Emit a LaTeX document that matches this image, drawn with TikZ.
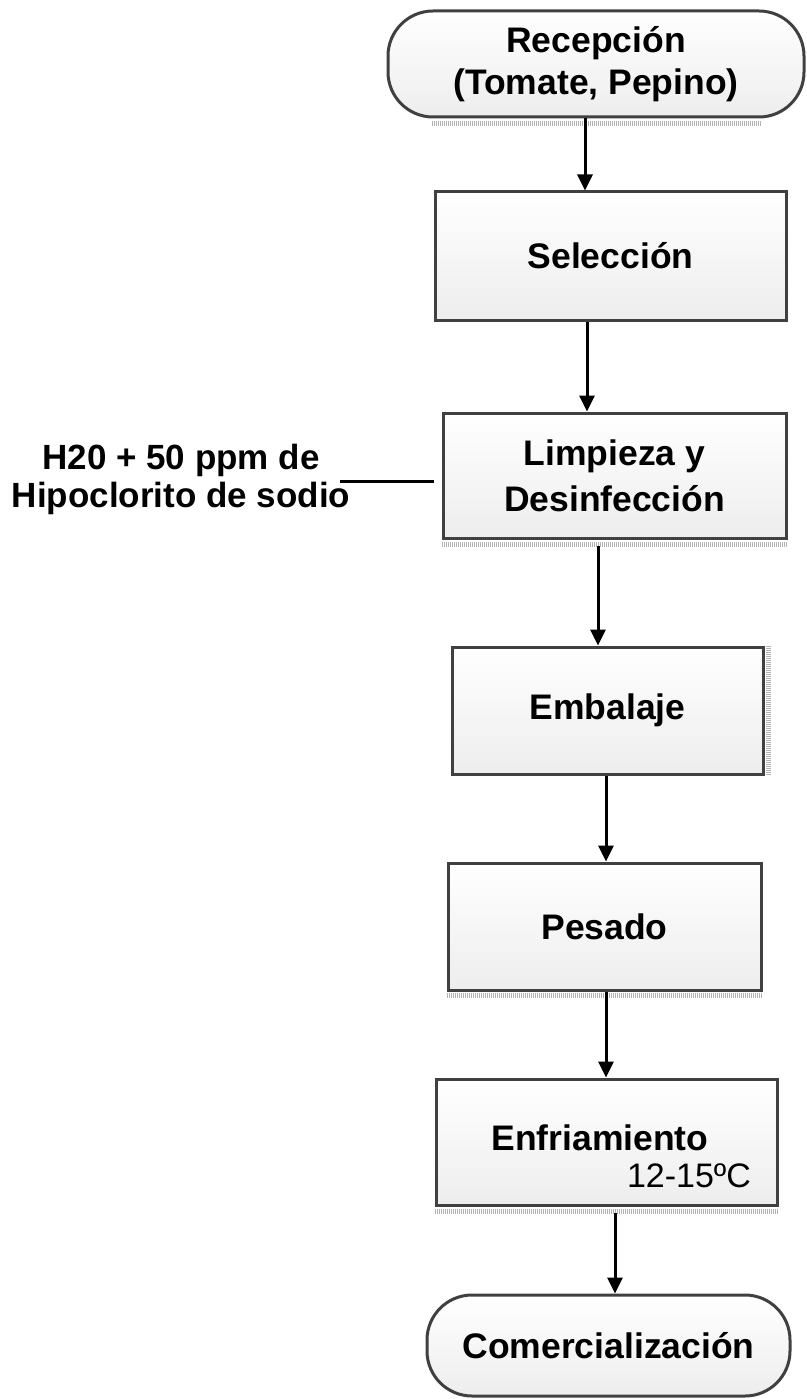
\documentclass[tikz,border=0pt]{standalone}
\usepackage{fontspec}
\setmainfont{Liberation Sans}
\usetikzlibrary{arrows.meta}

\begin{document}
\begin{tikzpicture}[
	x=1pt, y=-1pt,
	paso/.style={
		draw=black!75, line width=3pt, rectangle,
		top color=white, bottom color=black!7,
		font=\fontsize{35.5}{42}\selectfont\bfseries, align=center, inner sep=0pt
	},
	terminal/.style={paso, rounded corners=45pt},
	flecha/.style={-{Triangle[width=15pt,length=16pt]}, line width=3pt},
	sombra/.style={draw=black!30, line width=5pt, dash pattern=on 1pt off 1pt},
	nota/.style={font=\fontsize{35}{38}\selectfont\bfseries, align=center, inner sep=0pt},
	]
	\useasboundingbox (0,0) rectangle (806,1399);
	
	\node[terminal, minimum width=416pt, minimum height=106pt] (rec) at (596,64)  {Recepción\\(Tomate, Pepino)};
	\node[paso, minimum width=351pt, minimum height=128pt] (sel) at (610.5,256) {Selección};
	\node[paso, minimum width=343pt, minimum height=125pt] (lim) at (614.5,475.5) {Limpieza y\\[4pt]Desinfección};
	\node[paso, minimum width=311pt, minimum height=127pt] (emb) at (607.5,710.5) {Embalaje};
	\node[paso, minimum width=313pt, minimum height=127pt] (pes) at (604.5,926.5) {Pesado};
	\node[paso, minimum width=341pt, minimum height=126pt] (enf) at (606.5,1142) {};
	\node[terminal, minimum width=363pt, minimum height=101pt] (com) at (608.5,1345.5) {Comercialización};
	
	% texto dentro de enfriamiento
	\node[nota, font=\fontsize{35.5}{40}\selectfont\bfseries] (enftxt) at (600,1138) {Enfriamiento};
	\node[font=\fontsize{34}{38}\selectfont, inner sep=0pt] (temp) at (689,1176) {12-15ºC};
	
	% sombras
	\draw[sombra] ([xshift=45pt,yshift=-5pt]rec.south west) -- ([xshift=-45pt,yshift=-5pt]rec.south east);
	\draw[sombra] ([yshift=-5pt]lim.south west) -- ([yshift=-5pt]lim.south east);
	\draw[sombra] ([xshift=4pt]emb.north east) -- ([xshift=4pt]emb.south east);
	\draw[sombra] ([yshift=-4pt]pes.south west) -- ([yshift=-4pt]pes.south east);
	\draw[sombra] ([yshift=-5pt]enf.south west) -- ([yshift=-5pt]enf.south east);
	
	\draw[flecha] ([xshift=-11pt]rec.south) -- ([xshift=-11pt]rec.south |- sel.north);
	\draw[flecha] ([xshift=-23.5pt]sel.south) -- ([xshift=-23.5pt]sel.south |- lim.north);
	\draw[flecha] ([xshift=-16.5pt,yshift=-6pt]lim.south) -- ([xshift=-16.5pt]lim.south |- emb.north);
	\draw[flecha] ([xshift=-1.5pt]emb.south) -- ([xshift=-1.5pt]emb.south |- pes.north);
	\draw[flecha] ([xshift=1.5pt]pes.south) -- ([xshift=1.5pt]pes.south |- enf.north);
	\draw[flecha] ([xshift=8.5pt,yshift=-6pt]enf.south) -- ([xshift=8.5pt]enf.south |- com.north);
	
	% agua clorada -> limpieza
	\node[nota] (agua) at (181,479) {H20 + 50 ppm de\\Hipoclorito de sodio};
	\draw[line width=3pt] ([xshift=-10pt,yshift=-2pt]agua.east) -- ([xshift=-8pt,yshift=-2pt]agua.east -| lim.west);
	
\end{tikzpicture}
\end{document}
